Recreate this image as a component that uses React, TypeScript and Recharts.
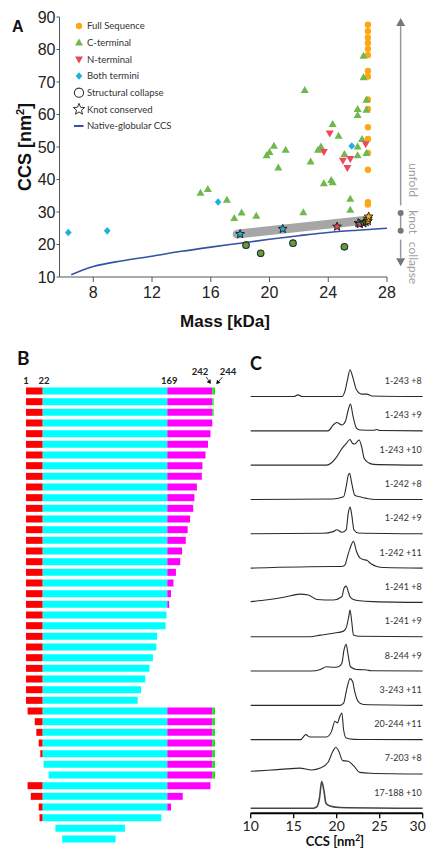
import React from "react";
import {
  ComposedChart,
  Line,
  Scatter,
  XAxis,
  YAxis,
  ReferenceLine,
  ReferenceDot,
  BarChart,
  Bar,
} from "recharts";

type Pt = [number, number];

// ---------- A: mass [kDa] vs CCS [nm2] ----------
const MASS_TICKS = [8, 12, 16, 20, 24, 28];
const CCS_TICKS = [10, 20, 30, 40, 50, 60, 70, 80, 90];

const FULL_SEQUENCE: Pt[] = [
  [26.7, 87.6], [26.7, 85.6], [26.7, 83.7], [26.7, 82.0], [26.7, 80.2], [26.7, 78.3],
  [26.7, 73.4], [26.7, 71.7], [26.7, 64.6], [26.7, 61.7], [26.7, 56.1], [26.7, 52.5],
  [26.7, 48.2], [26.7, 43.0], [26.7, 33.0], [26.7, 32.3],
];

const C_TERMINAL: Pt[] = [
  [26.4, 78.0], [26.4, 71.4], [26.6, 64.5], [26.6, 61.4], [26.0, 61.6], [26.0, 59.8],
  [22.4, 67.5], [24.3, 57.0], [24.7, 53.4], [26.3, 52.4], [26.0, 50.1], [26.6, 48.1],
  [26.0, 47.4], [25.1, 47.8], [23.3, 49.1], [23.5, 50.1], [22.8, 45.5], [20.3, 50.3],
  [20.0, 48.4], [19.8, 47.4], [21.1, 49.1], [20.6, 43.6], [23.7, 38.8], [24.2, 39.8],
  [24.3, 39.1], [25.5, 34.0], [25.5, 30.6], [22.3, 29.9], [19.1, 28.8], [18.1, 29.8],
  [17.6, 28.1], [15.3, 35.9], [15.8, 37.0], [17.1, 33.7],
];

const N_TERMINAL: Pt[] = [
  [24.1, 54.2], [23.7, 48.5], [25.0, 45.8], [25.5, 46.4], [25.3, 43.6], [26.55, 50.9],
];

const BOTH_TERMINI: Pt[] = [[6.3, 23.7], [8.95, 24.2], [16.5, 33.1], [25.6, 50.3]];

const STRUCTURAL_COLLAPSE: Pt[] = [[18.4, 19.8], [19.4, 17.3], [21.6, 20.4], [25.1, 19.3]];

// knot conserved, split by the colour of the species they belong to
const KNOT_BOTH: Pt[] = [[18.0, 23.2], [20.9, 24.8], [26.05, 26.6]];
const KNOT_N: Pt[] = [[24.6, 25.5], [26.15, 26.3]];
const KNOT_C: Pt[] = [[26.4, 26.5], [26.55, 26.9]];
const KNOT_FULL: Pt[] = [[26.7, 27.2], [26.7, 27.9], [26.75, 28.6]];

const KNOT_BAND: Pt[] = [[17.8, 23.2], [26.6, 27.5]];

const NATIVE_CCS: Pt[] = [
  [6.5, 10.7], [8, 13.2], [10, 15.0], [12, 16.4], [14, 17.9], [16, 19.2],
  [18, 20.4], [20, 21.6], [22, 22.7], [24, 23.7], [26, 24.4], [28, 25.0],
];

// right-hand annotation (CCS values)
const UNFOLD_SPAN: Pt = [32.0, 87.2];
const KNOT_SPAN: Pt = [24.2, 29.7];
const COLLAPSE_SPAN: Pt = [15.8, 21.5];
const STATE_LABELS: [string, number][] = [["unfold", 39.8], ["knot", 26.9], ["collapse", 14.3]];

// ---------- B: constructs (first / last residue) ----------
const B_TICKS = [1, 22, 169, 242, 244];
const ROW_START = [
  1, 1, 1, 1, 1, 1, 1, 1, 1, 1, 1, 1, 1, 1, 1, 1, 1, 1, 1, 1, 1, 1, 1, 1, 1, 1, 1, 1, 1, 1,
  3, 12, 14, 17, 19, 23, 29, 3, 7, 17, 18, 37, 45,
];
const ROW_END = [
  244, 243, 243, 242, 239, 235, 231, 226, 225, 217,
  213, 211, 206, 202, 199, 193, 190, 183, 179, 175,
  172, 168, 167, 157, 156, 152, 148, 143, 138, 134,
  244, 244, 244, 244, 244, 244, 244, 239, 194, 175, 162, 119, 108,
];

// ---------- C: arrival-time distributions, CCS [nm2] vs relative intensity ----------
const TRACE_NAMES = [
  "1-243 +8", "1-243 +9", "1-243 +10", "1-242 +8", "1-242 +9", "1-242 +11", "1-241 +8",
  "1-241 +9", "8-244 +9", "3-243 +11", "20-244 +11", "7-203 +8", "17-188 +10",
];
const T1: Pt[] = [[10, 0], [15, 0], [15.5, 0.06], [16, 0], [20.6, 0], [21.0, 0.25], [21.25, 0.62], [21.55, 1.0], [21.9, 0.69], [22.3, 0.25], [22.9, 0.09], [23.5, 0.09], [24.1, 0.02], [30, 0]];
const T2: Pt[] = [[10, 0], [19.0, 0], [19.6, 0.22], [20.0, 0.31], [20.6, 0.22], [21.0, 0.35], [21.35, 0.79], [21.6, 1.0], [21.9, 0.54], [22.3, 0.1], [22.7, 0.03], [24.3, 0.02], [24.65, 0.05], [25, 0.01], [30, 0]];
const T3: Pt[] = [[10, 0], [18.8, 0], [19.4, 0.09], [20.0, 0.31], [20.6, 0.62], [21.1, 0.81], [21.55, 0.96], [21.85, 0.81], [22.1, 0.79], [22.6, 0.94], [22.9, 0.69], [23.2, 0.25], [23.7, 0.09], [24.3, 0.03], [30, 0]];
const T4: Pt[] = [[10, 0], [19.6, 0.02], [20.8, 0.1], [21.1, 0.48], [21.35, 0.91], [21.5, 0.98], [21.75, 0.6], [22.1, 0.16], [22.7, 0.1], [23.5, 0.04], [24.5, 0], [30, 0]];
const T5: Pt[] = [[10, 0], [18.4, 0.02], [19.6, 0.08], [20.0, 0.15], [20.6, 0.06], [21.1, 0.15], [21.35, 0.78], [21.55, 1.0], [21.75, 0.71], [22.0, 0.15], [22.5, 0.03], [30, 0]];
const T6: Pt[] = [[10, 0], [19.6, 0.06], [20.6, 0.06], [21.0, 0.13], [21.15, 0.31], [21.5, 0.69], [21.95, 1.0], [22.3, 0.63], [22.7, 0.38], [23.1, 0.32], [23.5, 0.29], [24.0, 0.16], [24.65, 0.06], [25.5, 0.02], [30, 0]];
const T7: Pt[] = [[10, 0.03], [12, 0.1], [14, 0.2], [15.7, 0.31], [16.7, 0.28], [17.7, 0.11], [19.6, 0.09], [20.6, 0.21], [20.85, 0.53], [21.1, 0.61], [21.35, 0.4], [21.55, 0.21], [21.95, 0.11], [22.7, 0.06], [24.3, 0.03], [30, 0]];
const T8: Pt[] = [[10, 0], [16.9, 0], [18.1, 0.06], [19.6, 0.13], [20.8, 0.21], [21.15, 0.38], [21.4, 0.75], [21.55, 1.0], [21.75, 0.56], [21.95, 0.06], [22.5, 0.02], [30, 0]];
const T9: Pt[] = [[10, 0], [17, 0], [18.1, 0.06], [18.8, 0.16], [19.6, 0.14], [20.2, 0.16], [20.6, 0.29], [20.85, 0.79], [21.1, 1.0], [21.3, 0.66], [21.6, 0.16], [22.3, 0.06], [23.0, 0.05], [23.5, 0.04], [24, 0.01], [30, 0]];
const T10: Pt[] = [[10, 0], [20.4, 0], [20.8, 0.08], [21.15, 0.58], [21.55, 1.0], [21.85, 0.89], [22.1, 0.51], [22.5, 0.14], [23.1, 0.03], [30, 0]];
const T11: Pt[] = [[10, 0], [15.8, 0], [16.4, 0.19], [16.9, 0.1], [18.1, 0.1], [18.8, 0.1], [19.4, 0.31], [19.8, 0.69], [20.1, 0.63], [20.3, 0.81], [20.6, 1.0], [20.8, 0.38], [21.1, 0.06], [22, 0.01], [30, 0]];
const T12: Pt[] = [[10, 0.1], [12, 0.14], [14.2, 0.19], [15.7, 0.22], [17.1, 0.15], [18.1, 0.22], [19.0, 0.44], [19.6, 0.88], [19.9, 1.0], [20.2, 0.88], [20.7, 0.5], [21.35, 0.48], [21.95, 0.31], [22.7, 0.06], [23.9, 0.03], [30, 0]];
const T13: Pt[] = [[10, 0], [17.3, 0], [17.7, 0.06], [18.0, 0.38], [18.25, 1.0], [18.5, 0.69], [18.75, 0.19], [19.2, 0.09], [20.4, 0.03], [30, 0]];
const TRACES = [T1, T2, T3, T4, T5, T6, T7, T8, T9, T10, T11, T12, T13];
const C_TICKS = [10, 15, 20, 25, 30];

// ---------- styling ----------
const SANS = "'Liberation Sans', Arial, sans-serif";
const CAL = "Lato, 'Open Sans', sans-serif";
const ORANGE = "#fca814";
const GREEN = "#6fb84e";
const RED = "#f0465a";
const CYAN = "#1eafdc";
const BLUE = "#3352a3";
const GREY = "#9a9a9a";

const toXY = (pts: Pt[]) => pts.map(([x, y]) => ({ x, y }));

function starPath(cx: number, cy: number, R: number, r: number) {
  let d = "";
  for (let i = 0; i < 10; i++) {
    const a = -Math.PI / 2 + (i * Math.PI) / 5;
    const rad = i % 2 === 0 ? R : r;
    d += (i === 0 ? "M" : "L") + (cx + rad * Math.cos(a)).toFixed(2) + "," + (cy + rad * Math.sin(a)).toFixed(2);
  }
  return d + "Z";
}

const dotShape = (fill: string) => (p: any) => <circle cx={p.cx} cy={p.cy} r={3.2} fill={fill} />;
const triUp = (fill: string) => (p: any) => (
  <path d={`M${p.cx},${p.cy - 4.2}L${p.cx + 4},${p.cy + 2.8}L${p.cx - 4},${p.cy + 2.8}Z`} fill={fill} />
);
const triDown = (fill: string) => (p: any) => (
  <path d={`M${p.cx},${p.cy + 4.2}L${p.cx + 4},${p.cy - 2.8}L${p.cx - 4},${p.cy - 2.8}Z`} fill={fill} />
);
const diamond = (fill: string) => (p: any) => (
  <path d={`M${p.cx},${p.cy - 3.8}L${p.cx + 3.3},${p.cy}L${p.cx},${p.cy + 3.8}L${p.cx - 3.3},${p.cy}Z`} fill={fill} />
);
const collapseShape = (p: any) => (
  <circle cx={p.cx} cy={p.cy} r={3.3} fill="#5f9e3e" stroke="#2a2a2a" strokeWidth={1.1} />
);
const starShape = (fill: string) => (p: any) => (
  <path d={starPath(p.cx, p.cy, 4.6, 2.0)} fill={fill} stroke="#1a1a1a" strokeWidth={0.9} />
);

function PanelA() {
  return (
    <div style={{ position: "absolute", left: 0, top: 0 }}>
      <ComposedChart width={429} height={340} margin={{ top: 17, right: 42, bottom: 33, left: 0 }}>
        <XAxis
          type="number"
          dataKey="x"
          domain={[5.7, 28]}
          ticks={MASS_TICKS}
          height={30}
          tickSize={5}
          tickMargin={5}
          stroke="#555"
          tick={{ fontSize: 16, fill: "#222", fontFamily: SANS }}
        />
        <YAxis
          type="number"
          dataKey="y"
          domain={[10, 90]}
          ticks={CCS_TICKS}
          width={59.5}
          tickSize={3}
          tickMargin={1}
          stroke="#555"
          tick={{ fontSize: 16, fill: "#222", fontFamily: SANS }}
        />
        <Line data={toXY(KNOT_BAND)} dataKey="y" stroke="#a6a6a6" strokeWidth={9} strokeLinecap="round" dot={false} isAnimationActive={false} />
        <Line data={toXY(NATIVE_CCS)} dataKey="y" type="monotone" stroke={BLUE} strokeWidth={1.6} dot={false} isAnimationActive={false} />
        <Scatter data={toXY(FULL_SEQUENCE)} shape={dotShape(ORANGE)} isAnimationActive={false} />
        <Scatter data={toXY(C_TERMINAL)} shape={triUp(GREEN)} isAnimationActive={false} />
        <Scatter data={toXY(N_TERMINAL)} shape={triDown(RED)} isAnimationActive={false} />
        <Scatter data={toXY(BOTH_TERMINI)} shape={diamond(CYAN)} isAnimationActive={false} />
        <Scatter data={toXY(STRUCTURAL_COLLAPSE)} shape={collapseShape} isAnimationActive={false} />
        <Scatter data={toXY(KNOT_BOTH)} shape={starShape(CYAN)} isAnimationActive={false} />
        <Scatter data={toXY(KNOT_N)} shape={starShape(RED)} isAnimationActive={false} />
        <Scatter data={toXY(KNOT_C)} shape={starShape("#3c6e2a")} isAnimationActive={false} />
        <Scatter data={toXY(KNOT_FULL)} shape={starShape(ORANGE)} isAnimationActive={false} />

        {/* unfold / knot / collapse scale on the right */}
        <ReferenceLine
          segment={[{ x: 28.93, y: UNFOLD_SPAN[0] }, { x: 28.93, y: UNFOLD_SPAN[1] }]}
          stroke={GREY}
          strokeWidth={1.5}
          ifOverflow="visible"
        />
        <ReferenceLine
          segment={[{ x: 28.93, y: KNOT_SPAN[0] }, { x: 28.93, y: KNOT_SPAN[1] }]}
          stroke={GREY}
          strokeWidth={1.5}
          ifOverflow="visible"
        />
        <ReferenceLine
          segment={[{ x: 28.93, y: COLLAPSE_SPAN[0] }, { x: 28.93, y: COLLAPSE_SPAN[1] }]}
          stroke={GREY}
          strokeWidth={1.5}
          ifOverflow="visible"
        />
        <ReferenceDot
          x={28.93}
          y={UNFOLD_SPAN[1]}
          ifOverflow="visible"
          shape={(p: any) => <path d={`M${p.cx},${p.cy - 8}L${p.cx + 4.5},${p.cy}L${p.cx - 4.5},${p.cy}Z`} fill="#777" />}
        />
        <ReferenceDot
          x={28.93}
          y={COLLAPSE_SPAN[0]}
          ifOverflow="visible"
          shape={(p: any) => <path d={`M${p.cx},${p.cy + 8}L${p.cx + 4.5},${p.cy}L${p.cx - 4.5},${p.cy}Z`} fill="#777" />}
        />
        {KNOT_SPAN.map((v) => (
          <ReferenceDot key={v} x={28.93} y={v} r={3} fill="#777" stroke="none" ifOverflow="visible" />
        ))}
        {STATE_LABELS.map(([name, v]) => (
          <ReferenceDot
            key={name}
            x={28.93}
            y={v}
            ifOverflow="visible"
            shape={(p: any) => (
              <text
                x={p.cx + 8}
                y={p.cy}
                transform={`rotate(90 ${p.cx + 8} ${p.cy})`}
                textAnchor="middle"
                fontSize={12}
                fontFamily={CAL}
                fill="#a0a0a0"
              >
                {name}
              </text>
            )}
          />
        ))}
      </ComposedChart>
    </div>
  );
}

// residue -> drawing position along the construct bars (schematic, not to scale)
const B_ANCHOR_RES = [1, 22, 169, 242, 244];
const B_ANCHOR_POS = [0, 16.7, 141.3, 186.3, 189];
function pos(r: number) {
  for (let i = 1; i < B_ANCHOR_RES.length; i++) {
    if (r <= B_ANCHOR_RES[i]) {
      const a = B_ANCHOR_RES[i - 1];
      const b = B_ANCHOR_RES[i];
      return B_ANCHOR_POS[i - 1] + ((r - a) / (b - a)) * (B_ANCHOR_POS[i] - B_ANCHOR_POS[i - 1]);
    }
  }
  return B_ANCHOR_POS[B_ANCHOR_POS.length - 1];
}
const seg = (s: number, e: number, lo: number, hi: number) => {
  const a = Math.max(s, lo);
  const b = Math.min(e, hi);
  return b > a ? pos(b) - pos(a) : 0;
};
const B_ROWS = ROW_START.map((s, i) => {
  const e = ROW_END[i];
  return {
    row: i,
    gap: pos(s),
    red: seg(s, e, 1, 22),
    cyan: seg(s, e, 22, 169),
    magenta: seg(s, e, 169, 242),
    green: seg(s, e, 242, 244),
  };
});
const B_TICK_POS = B_TICKS.map(pos);

function arrow(x1: number, y1: number, x2: number, y2: number) {
  const ang = Math.atan2(y2 - y1, x2 - x1);
  const h = 4;
  const w = 2.4;
  const bx = x2 - h * Math.cos(ang);
  const by = y2 - h * Math.sin(ang);
  const px = -Math.sin(ang) * w;
  const py = Math.cos(ang) * w;
  return (
    <g>
      <line x1={x1} y1={y1} x2={bx} y2={by} stroke="#111" strokeWidth={0.8} />
      <path d={`M${x2},${y2}L${bx + px},${by + py}L${bx - px},${by - py}Z`} fill="#111" />
    </g>
  );
}

function ResidueTick(props: any) {
  const { x, y, payload } = props;
  const i = B_TICK_POS.findIndex((p) => Math.abs(p - payload.value) < 0.01);
  const res = B_TICKS[i];
  const style = { fontSize: 9.5, fontWeight: 700, fontFamily: CAL, fill: "#222" };
  if (res === 242) {
    return (
      <g>
        <text x={x - 12.3} y={y - 10.5} textAnchor="middle" {...style}>{res}</text>
        {arrow(x - 6, y - 8.5, x - 1.5, y - 1.5)}
      </g>
    );
  }
  if (res === 244) {
    return (
      <g>
        <text x={x + 13} y={y - 10.5} textAnchor="middle" {...style}>{res}</text>
        {arrow(x + 7.5, y - 8.5, x + 1.2, y - 1.2)}
      </g>
    );
  }
  const dx = res === 1 ? 0 : res === 22 ? 1.3 : 2;
  return (
    <text x={x + dx} y={y - 1} textAnchor="middle" {...style}>{res}</text>
  );
}

function PanelB() {
  return (
    <div style={{ position: "absolute", left: 0, top: 360 }}>
      <BarChart
        layout="vertical"
        width={245}
        height={485.2}
        data={B_ROWS}
        margin={{ top: 5, right: 30, bottom: 1, left: 26 }}
        barSize={7}
      >
        <XAxis
          type="number"
          orientation="top"
          domain={[0, 189]}
          ticks={B_TICK_POS}
          interval={0}
          height={20.5}
          axisLine={false}
          tickLine={false}
          tickSize={0}
          tickMargin={0}
          tick={<ResidueTick />}
        />
        <YAxis type="category" dataKey="row" hide />
        <Bar dataKey="gap" stackId="s" fill="transparent" isAnimationActive={false} />
        <Bar dataKey="red" stackId="s" fill="#ff0000" isAnimationActive={false} />
        <Bar dataKey="cyan" stackId="s" fill="#00ffff" isAnimationActive={false} />
        <Bar dataKey="magenta" stackId="s" fill="#ff00ff" isAnimationActive={false} />
        <Bar dataKey="green" stackId="s" fill="#22dd22" isAnimationActive={false} />
      </BarChart>
    </div>
  );
}

// CCS tick labels; the last one is pulled in so it stays on the page
function CcsTick(props: any) {
  const { x, y, payload } = props;
  const dx = payload.value === 30 ? -5 : 0;
  return (
    <text x={x + dx} y={y + 10} textAnchor="middle" fontSize={14} fontFamily={CAL} fill="#222">
      {payload.value}
    </text>
  );
}

// vertical spacing of the stacked traces, in peak-height units
const ROW_STEP = 1.285;

function PanelC() {
  const n = TRACES.length;
  return (
    <div style={{ position: "absolute", left: 230, top: 340 }}>
      <ComposedChart width={199} height={503.3} margin={{ top: 21.8, right: 6.3, bottom: 0, left: 20.7 }}>
        <XAxis
          type="number"
          dataKey="x"
          domain={[10, 30]}
          ticks={C_TICKS}
          interval={0}
          height={30}
          tickSize={5}
          tickMargin={3}
          axisLine={{ stroke: "#000", strokeWidth: 2 }}
          tickLine={{ stroke: "#000", strokeWidth: 1.3 }}
          tick={<CcsTick />}
        />
        <YAxis type="number" dataKey="y" domain={[-0.187, 16.72]} hide />
        {TRACES.map((t, i) => {
          const base = (n - 1 - i) * ROW_STEP;
          return (
            <Line
              key={TRACE_NAMES[i]}
              data={t.map(([x, v]) => ({ x, y: base + v }))}
              dataKey="y"
              type="monotone"
              stroke={i === n - 1 ? "#444" : "#2a2a2a"}
              strokeWidth={i === n - 1 ? 1.6 : 1.1}
              dot={false}
              isAnimationActive={false}
            />
          );
        })}
        {TRACE_NAMES.map((name, i) => (
          <ReferenceDot
            key={name}
            x={30}
            y={(n - 1 - i) * ROW_STEP}
            ifOverflow="visible"
            shape={(p: any) => (
              <text x={p.cx - 1} y={p.cy - 12.5} textAnchor="end" fontSize={9} fontFamily={CAL} fill="#333">
                {name}
              </text>
            )}
          />
        ))}
      </ComposedChart>
    </div>
  );
}

const LEGEND: { label: string; icon: (cx: number, cy: number) => React.ReactNode }[] = [
  { label: "Full Sequence", icon: (cx, cy) => dotShape(ORANGE)({ cx, cy }) },
  { label: "C-terminal", icon: (cx, cy) => triUp(GREEN)({ cx, cy }) },
  { label: "N-terminal", icon: (cx, cy) => triDown(RED)({ cx, cy }) },
  { label: "Both termini", icon: (cx, cy) => diamond(CYAN)({ cx, cy }) },
  { label: "Structural collapse", icon: (cx, cy) => <circle cx={cx} cy={cy} r={4.6} fill="none" stroke="#333" strokeWidth={1.1} /> },
  { label: "Knot conserved", icon: (cx, cy) => <path d={starPath(cx, cy, 6, 2.6)} fill="none" stroke="#333" strokeWidth={1} /> },
  { label: "Native-globular CCS", icon: (cx, cy) => <line x1={cx - 5} y1={cy} x2={cx + 4.5} y2={cy} stroke={BLUE} strokeWidth={2} /> },
];

function Overlay() {
  return (
    <svg
      width={429}
      height={852}
      style={{ position: "absolute", left: 0, top: 0, pointerEvents: "none" }}
    >
      <text x={12} y={32} fontSize={16} fontWeight={700} fontFamily={SANS} fill="#111">A</text>
      <text x={17} y={365} fontSize={19} fontWeight={700} fontFamily={CAL} fill="#111">B</text>
      <text x={250} y={370} fontSize={18} fontWeight={700} fontFamily={CAL} fill="#111">C</text>

      <text
        x={31}
        y={147}
        transform="rotate(-90 31 147)"
        textAnchor="middle"
        fontSize={18}
        fontWeight={700}
        fontFamily={SANS}
        fill="#111"
      >
        CCS [nm<tspan dy={-7} fontSize={11}>2</tspan><tspan dy={7}>]</tspan>
      </text>
      <text x={225} y={327} textAnchor="middle" fontSize={17} fontWeight={700} fontFamily={SANS} fill="#111">
        Mass [kDa]
      </text>
      <text x={335} y={846} textAnchor="middle" fontSize={13} fontWeight={700} fontFamily={CAL} fill="#111">
        CCS [nm<tspan dy={-5} fontSize={8.5}>2</tspan><tspan dy={5}>]</tspan>
      </text>

      {LEGEND.map((item, i) => {
        const cy = 26 + i * 16.67;
        return (
          <g key={item.label}>
            {item.icon(79, cy)}
            <text x={87} y={cy + 3.3} fontSize={9.5} fontFamily={CAL} fill="#333">
              {item.label}
            </text>
          </g>
        );
      })}
    </svg>
  );
}

export default function App() {
  return (
    <div
      style={{
        position: "absolute",
        left: 0,
        top: 0,
        width: 429,
        height: 852,
        background: "#fff",
        overflow: "hidden",
      }}
    >
      <PanelA />
      <PanelB />
      <PanelC />
      <Overlay />
    </div>
  );
}
